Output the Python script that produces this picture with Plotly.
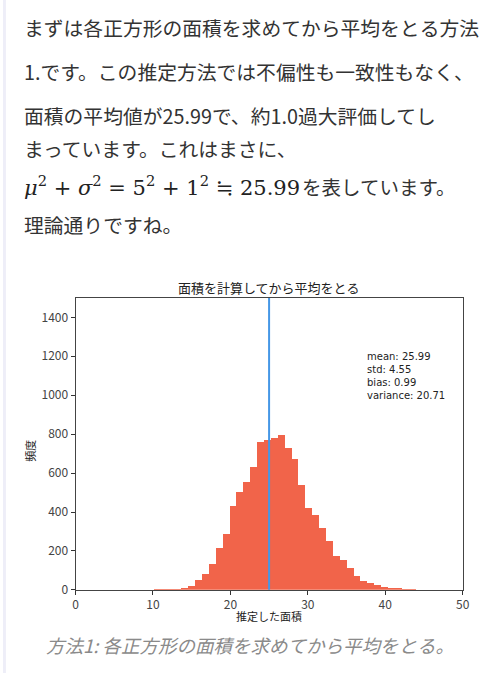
import numpy as np
import plotly.graph_objects as go

# histogram (bins of equal width)
bin_start = 10.04
bin_width = 0.89
counts = [3, 1, 2, 4, 10, 20, 49, 82, 134, 216,
          286, 430, 504, 556, 630, 761, 769, 783, 795, 728,
          674, 540, 419, 383, 318, 254, 175, 153, 114, 70,
          44, 34, 24, 13, 12, 5, 4, 3]
true_area = 25
stats_lines = ["mean: 25.99", "std: 4.55", "bias: 0.99", "variance: 20.71"]

body_lines = [
    "まずは各正方形の面積を求めてから平均をとる方法",
    "1.です。この推定方法では不偏性も一致性もなく、",
    "面積の平均値が25.99で、約1.0過大評価してし",
    "まっています。これはまさに、",
    None,  # formula line
    "理論通りですね。",
]
body_y = [28, 72, 117, 150, 188, 227]
formula = "<i>μ</i><sup>2</sup> + <i>σ</i><sup>2</sup> = 5<sup>2</sup> + 1<sup>2</sup> ≒ 25.99"
formula_tail = "を表しています。"

centers = bin_start + bin_width * (np.arange(len(counts)) + 0.5)

W, H = 501, 680
jp = "Noto Sans CJK JP"

fig = go.Figure()
fig.add_trace(go.Bar(
    x=centers, y=counts, width=bin_width,
    marker=dict(color="#f1644a", line=dict(width=0)),
    hoverinfo="x+y",
))
fig.add_vline(x=true_area, line=dict(color="#4597e6", width=2))

fig.update_layout(
    width=W, height=H,
    margin=dict(l=0, r=0, t=0, b=0),
    paper_bgcolor="white", plot_bgcolor="white",
    showlegend=False, bargap=0,
    font=dict(family=jp, color="#333333"),
    xaxis=dict(
        domain=[74 / W, 469 / W], range=[0, 50],
        tickvals=[0, 10, 20, 30, 40, 50], ticks="outside", ticklen=4,
        tickcolor="#333", tickfont=dict(size=12, color="#444"),
        showline=True, mirror=True, linecolor="#444", linewidth=1,
        showgrid=False, zeroline=False,
    ),
    yaxis=dict(
        domain=[1 - 596 / H, 1 - 301 / H], range=[0, 1500],
        tickvals=[0, 200, 400, 600, 800, 1000, 1200, 1400], ticks="outside",
        ticklen=4, tickcolor="#333", tickfont=dict(size=12, color="#444"),
        showline=True, mirror=True, linecolor="#444", linewidth=1,
        showgrid=False, zeroline=False,
    ),
)


def note(x, y, text, size, color, family=jp, **kw):
    d = dict(x=x / W, y=1 - y / H, xref="paper", yref="paper",
             xanchor="center", yanchor="middle", showarrow=False,
             text=text, font=dict(size=size, color=color, family=family))
    d.update(kw)
    return d


ann = []
# body text above the chart
for txt, yy in zip(body_lines, body_y):
    if txt is None:
        ann.append(note(19, yy, formula, 21, "#222222", family="DejaVu Serif",
                        xanchor="left"))
        ann.append(note(303, yy, formula_tail, 19.5, "#333333", xanchor="left"))
        continue
    ann.append(note(19, yy, txt, 19.8, "#333333", xanchor="left"))

# chart title and axis labels
ann.append(note(271, 290, "面積を計算してから平均をとる", 13, "#222"))
ann.append(note(271, 622, "推定した面積", 11, "#222"))
ann.append(note(28, 455, "頻度", 11, "#222", textangle=-90))
# stats box
ann.append(note(369, 353, "<br>".join(stats_lines), 10, "#222", family="DejaVu Sans",
                xanchor="left", yanchor="top", align="left"))
# caption
ann.append(note(252, 652, "<i>方法1: 各正方形の面積を求めてから平均をとる。</i>", 18.5, "#8a8a8a"))
fig.update_layout(annotations=ann)

# faint page border at left
fig.add_shape(type="rect", xref="paper", yref="paper", x0=0, x1=3 / W, y0=0, y1=1,
              fillcolor="#eeeef8", line=dict(width=0), layer="below")

fig.write_html("out.html", config={"displayModeBar": False},
               post_script="document.body.style.margin='0';document.body.style.overflow='hidden';")
